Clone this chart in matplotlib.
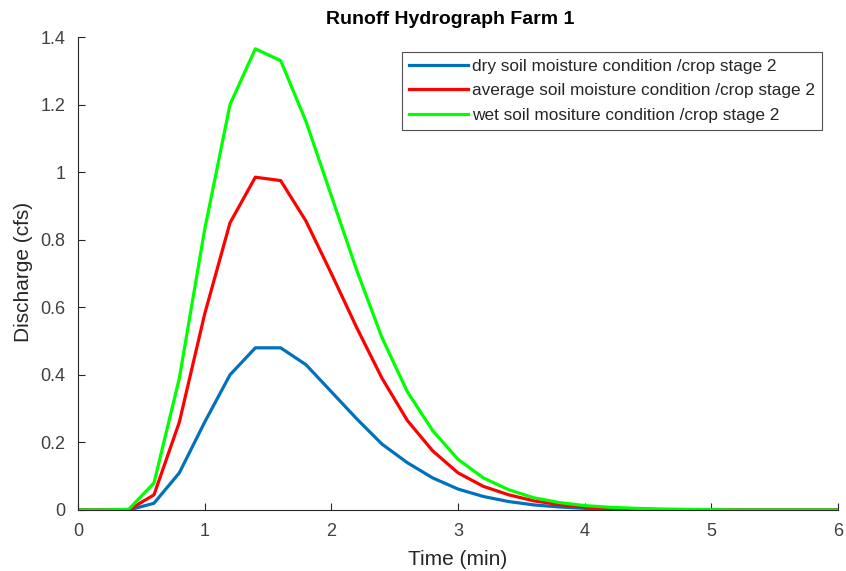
import matplotlib
matplotlib.use("Agg")
import matplotlib.pyplot as plt
import numpy as np

plt.rcParams['font.family'] = ['Liberation Sans', 'DejaVu Sans']

time = [round(0.2 * i, 1) for i in range(31)]
dry = [0, 0, 0, 0.02, 0.11, 0.26, 0.40, 0.48, 0.48, 0.43, 0.35, 0.27, 0.195, 0.14, 0.095,
       0.062, 0.04, 0.025, 0.015, 0.009, 0.005, 0.002, 0.001, 0, 0, 0, 0, 0, 0, 0, 0]
average = [0, 0, 0, 0.045, 0.26, 0.58, 0.85, 0.985, 0.975, 0.855, 0.70, 0.54, 0.39, 0.265, 0.175,
           0.11, 0.07, 0.045, 0.027, 0.016, 0.009, 0.005, 0.002, 0.001, 0, 0, 0, 0, 0, 0, 0]
wet = [0, 0, 0.002, 0.08, 0.39, 0.83, 1.20, 1.365, 1.33, 1.15, 0.93, 0.71, 0.51, 0.35, 0.235,
       0.15, 0.095, 0.06, 0.036, 0.022, 0.013, 0.008, 0.005, 0.003, 0.002, 0.001, 0, 0, 0, 0, 0]
labels = ["dry soil moisture condition /crop stage 2",
          "average soil moisture condition /crop stage 2",
          "wet soil mositure condition /crop stage 2"]
colors = ["#0072BD", "#FF0000", "#00FF00"]

fig = plt.figure(figsize=(8.46, 5.71), dpi=100)
ax = fig.add_axes([78/846, 61/571, 760/846, 473/571])
for y, lab, c in zip([dry, average, wet], labels, colors):
    ax.plot(time, y, color=c, lw=2.3, label=lab)

ax.set_xlim(0, 6)
ax.set_ylim(0, 1.4)
ax.set_xticks(range(7))
ax.set_yticks([0, 0.2, 0.4, 0.6, 0.8, 1, 1.2, 1.4])
ax.set_yticklabels(["0", "0.2", "0.4", "0.6", "0.8", "1", "1.2", "1.4"])
for s in ["top", "right"]:
    ax.spines[s].set_visible(False)
for s in ["left", "bottom"]:
    ax.spines[s].set_color("#262626")
    ax.spines[s].set_linewidth(0.8)
ax.tick_params(direction="in", length=5, width=0.8, colors="#262626", labelcolor="#404040",
               labelsize=13, pad=9)
ax.set_title("Runoff Hydrograph Farm 1", fontsize=14, fontweight="bold", pad=9, x=0.49)
ax.set_ylabel("Discharge (cfs)", fontsize=15, color="#262626")
ax.yaxis.set_label_coords(-0.0592, 0.503)
ax.set_xlabel("Time (min)", fontsize=15, color="#262626")
ax.xaxis.set_label_coords(0.5, -0.0845)

leg = ax.legend(loc="upper right", bbox_to_anchor=(822/846, 519/571), bbox_transform=fig.transFigure,
                fontsize=12.4, frameon=True, fancybox=False, handlelength=3.4, handletextpad=0.25,
                borderpad=0.4, labelspacing=0.55, borderaxespad=0)
leg.get_frame().set_edgecolor("#262626")
leg.get_frame().set_linewidth(0.8)
for t in leg.get_texts():
    t.set_color("#262626")

fig.savefig("out.png", dpi=100)
